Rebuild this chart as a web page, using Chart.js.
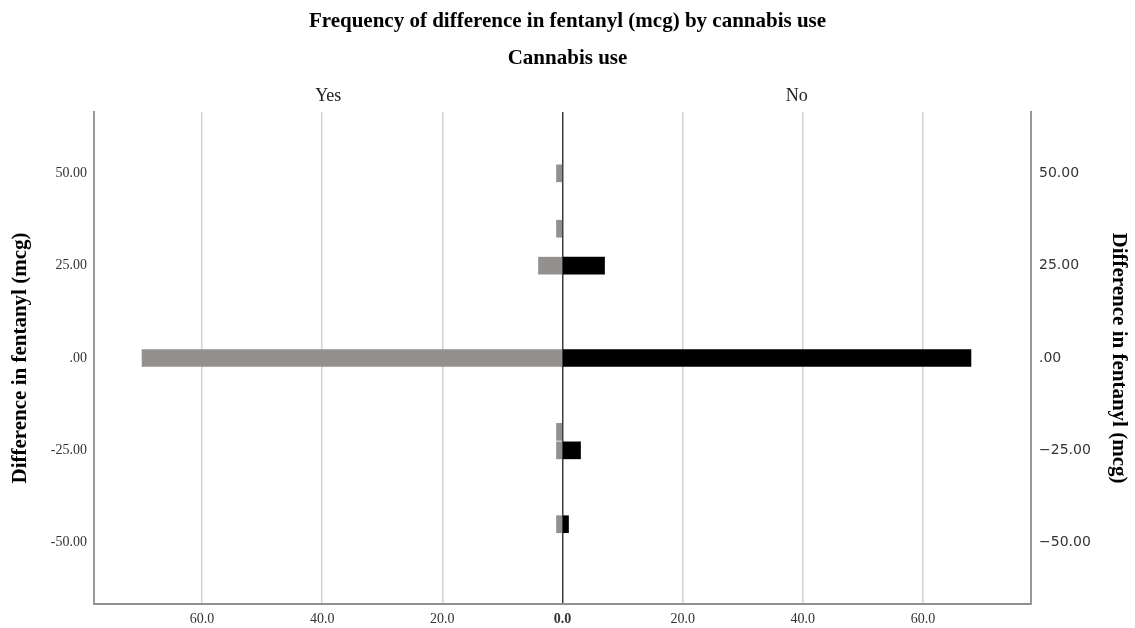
<!DOCTYPE html>
<html>
<head>
<meta charset="utf-8">
<script src="https://cdn.jsdelivr.net/npm/chart.js@4.4.1/dist/chart.umd.min.js"></script>
<style>
  html, body { margin: 0; padding: 0; background: #ffffff; }
  #wrap { width: 1135px; height: 628px; }
</style>
</head>
<body>
<div id="wrap"><canvas id="c" width="1135" height="628"></canvas></div>
<script>
// ---- Data ----
const yesBins   = [50, 35, 25, 0, -20, -25, -45];
const yesCounts = [1, 1, 4, 70, 1, 1, 1];
const noBins    = [25, 0, -25, -45];
const noCounts  = [7, 68, 3, 1];

const panelLabels = ['Yes', 'No'];

const yTickValues      = [-50, -25, 0, 25, 50];
const yTickLabelsLeft  = ['-50.00', '-25.00', '.00', '25.00', '50.00'];
const yTickLabelsRight = ['\u221250.00', '\u221225.00', '.00', '25.00', '50.00'];

const xTickValues = [-60, -40, -20, 0, 20, 40, 60];
const xTickLabels = ['60.0', '40.0', '20.0', '0.0', '20.0', '40.0', '60.0'];

const titleText    = 'Frequency of difference in fentanyl (mcg) by cannabis use';
const subtitleText = 'Cannabis use';
const yTitleText   = 'Difference in fentanyl (mcg)';

// ---- Chart ----
const SERIF = "'Liberation Serif', 'Times New Roman', serif";
const SANS  = "'DejaVu Sans', sans-serif";

new Chart(document.getElementById('c'), {
  type: 'bar',
  data: {
    datasets: [
      {
        label: panelLabels[0],
        data: yesBins.map((b, i) => ({ x: -yesCounts[i], y: b })),
        backgroundColor: '#959090',
        grouped: false,
        barThickness: 17,
        xAxisID: 'x',
        yAxisID: 'y'
      },
      {
        label: panelLabels[1],
        data: noBins.map((b, i) => ({ x: noCounts[i], y: b })),
        backgroundColor: '#000000',
        grouped: false,
        barThickness: 17,
        xAxisID: 'x',
        yAxisID: 'y'
      }
    ]
  },
  options: {
    indexAxis: 'y',
    responsive: false,
    animation: false,
    devicePixelRatio: 1,
    layout: { padding: 0 },
    plugins: {
      legend: { display: false },
      tooltip: { enabled: false },
      title: {
        display: true,
        text: titleText,
        color: '#000',
        font: { family: SERIF, size: 21, weight: 'bold' },
        padding: { top: 9, bottom: 12 }
      },
      subtitle: {
        display: true,
        text: subtitleText,
        color: '#000',
        font: { family: SERIF, size: 21, weight: 'bold' },
        padding: { top: 0, bottom: 0 }
      }
    },
    scales: {
      x: {
        type: 'linear',
        position: 'bottom',
        min: -78,
        max: 78,
        offset: false,
        afterBuildTicks: s => { s.ticks = xTickValues.map(v => ({ value: v })); },
        afterFit: s => { s.height = 24; },
        ticks: {
          callback: (v, i) => xTickLabels[i],
          color: '#333',
          padding: 7,
          maxRotation: 0,
          autoSkip: false,
          font: ctx => ({ family: SERIF, size: 14, weight: (ctx.tick && ctx.tick.value === 0) ? 'bold' : 'normal' })
        },
        grid: {
          drawTicks: false,
          offset: false,
          color: ctx => (ctx.tick && ctx.tick.value === 0) ? '#3c3c3c' : '#d2d2d2',
          lineWidth: 1.5
        },
        border: { color: '#8f8f8f', width: 2 }
      },
      x2: {
        type: 'category',
        position: 'top',
        labels: panelLabels,
        offset: true,
        afterFit: s => { s.height = 40.6; },
        ticks: {
          color: '#222',
          padding: 5,
          font: { family: SERIF, size: 18 }
        },
        grid: { display: false, drawTicks: false },
        border: { display: false }
      },
      y: {
        type: 'linear',
        position: 'left',
        min: -66.6,
        max: 66.6,
        offset: false,
        afterBuildTicks: s => { s.ticks = yTickValues.map(v => ({ value: v })); },
        afterFit: s => { s.width = 94; },
        ticks: {
          callback: (v, i) => yTickLabelsLeft[i],
          color: '#333',
          padding: 7,
          font: { family: SERIF, size: 14 }
        },
        grid: { drawOnChartArea: false, drawTicks: false, offset: false },
        border: { color: '#999999', width: 2 },
        title: {
          display: true,
          text: yTitleText,
          color: '#000',
          font: { family: SERIF, size: 21, weight: 'bold' },
          padding: { top: 8, bottom: 0 }
        }
      },
      y2: {
        type: 'linear',
        position: 'right',
        min: -66.6,
        max: 66.6,
        offset: false,
        afterBuildTicks: s => { s.ticks = yTickValues.map(v => ({ value: v })); },
        afterFit: s => { s.width = 104; },
        ticks: {
          callback: (v, i) => yTickLabelsRight[i],
          color: '#333',
          padding: 8,
          font: { family: SANS, size: 14 }
        },
        grid: { drawOnChartArea: false, drawTicks: false, offset: false },
        border: { color: '#999999', width: 2 },
        title: {
          display: true,
          text: yTitleText,
          color: '#000',
          font: { family: SERIF, size: 21, weight: 'bold' },
          padding: { top: 4, bottom: 0 }
        }
      }
    }
  }
});
</script>
</body>
</html>
